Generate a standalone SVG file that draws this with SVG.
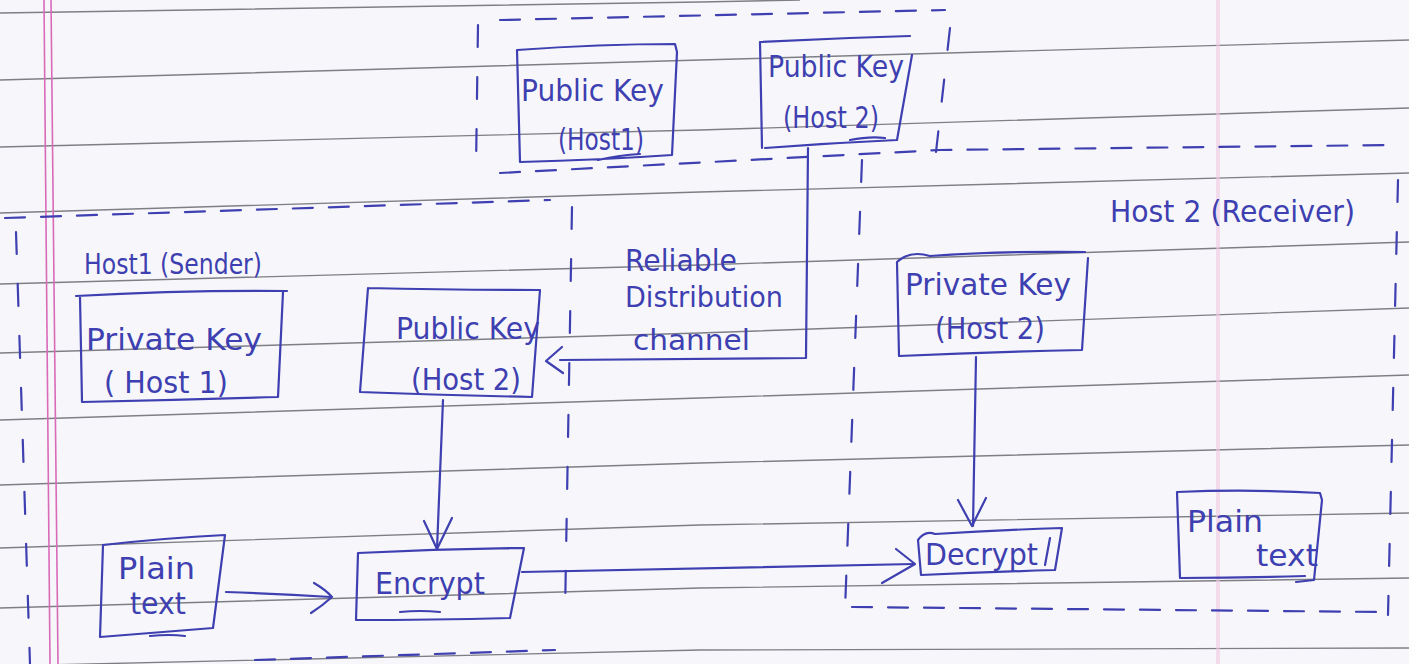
<svg xmlns="http://www.w3.org/2000/svg" width="1409" height="664" viewBox="0 0 1409 664">
  <style>
    .paper { fill: #f7f7fb; }
    .rule { fill: none; stroke: #55555f; stroke-width: 1.4; opacity: 0.75; }
    .margin { fill: none; stroke: #d96ab8; stroke-width: 1.6; }
    .margin-faint { fill: none; stroke: #efc9e2; stroke-width: 4; opacity: 0.6; }
    .ink { fill: none; stroke: #3e3fb0; stroke-width: 2.2; stroke-linecap: round; stroke-linejoin: round; }
    .dash-h { fill: none; stroke: #3e3fb0; stroke-width: 2.2; stroke-linecap: round; stroke-dasharray: 20 16; }
    .dash-v { fill: none; stroke: #3e3fb0; stroke-width: 2.2; stroke-linecap: round; stroke-dasharray: 22 30; }
    .label { fill: #3e3fb0; font-family: "DejaVu Sans", "Liberation Sans", sans-serif; font-size: 30px; }
    .small { font-size: 28px; }
  </style>

  <!-- ruled notebook paper -->
  <rect class="paper" x="0" y="0" width="1409" height="664"/>
  <g id="paper-rules">
    <polyline class="rule" points="0,13 700,2 800,0"/>
    <polyline class="rule" points="0,80 700,60 1409,40"/>
    <polyline class="rule" points="0,147 700,130 1409,108"/>
    <polyline class="rule" points="0,213 700,192 1409,173"/>
    <polyline class="rule" points="0,284 700,265 1409,242"/>
    <polyline class="rule" points="0,353 700,333 1409,308"/>
    <polyline class="rule" points="0,420 700,398 1409,375"/>
    <polyline class="rule" points="0,485 700,463 1409,445"/>
    <polyline class="rule" points="0,548 700,525 1409,513"/>
    <polyline class="rule" points="0,608 700,588 1409,578"/>
    <polyline class="rule" points="0,666 700,650 1409,648"/>
    <line class="margin-faint" x1="1218" y1="0" x2="1218" y2="664"/>
    <line class="margin" x1="44" y1="0" x2="50" y2="664"/>
    <line class="margin" x1="51" y1="0" x2="58" y2="664"/>
  </g>

  <!-- dashed region boundaries -->
  <g id="regions">
    <!-- public key directory -->
    <path class="dash-h" d="M500,20 L945,10"/>
    <path class="dash-v" d="M478,25 L476,168"/>
    <path class="dash-v" d="M950,28 L936,152"/>
    <path class="dash-h" d="M500,173 L940,150 L1395,145"/>
    <!-- host 1 (sender) -->
    <path class="dash-h" d="M5,218 L550,200"/>
    <path class="dash-v" d="M16,232 L30,664"/>
    <path class="dash-v" d="M572,207 L565,615"/>
    <path class="dash-h" d="M255,660 L555,650"/>
    <!-- host 2 (receiver) -->
    <path class="dash-v" d="M862,160 L845,610"/>
    <path class="dash-v" d="M1398,180 L1388,615"/>
    <path class="dash-h" d="M852,607 L1385,612"/>
  </g>

  <!-- connectors -->
  <g id="connectors">
    <!-- reliable distribution channel -->
    <path class="ink" d="M808,148 L806,358 L560,360"/>
    <path class="ink" d="M562,347 L546,361 L563,373"/>
    <!-- public key into encrypt -->
    <path class="ink" d="M443,400 L437,549"/>
    <path class="ink" d="M424,521 L437,549 L452,518"/>
    <!-- plain text into encrypt -->
    <path class="ink" d="M226,592 Q280,594 331,597"/>
    <path class="ink" d="M314,583 Q326,590 332,597 Q322,606 311,613"/>
    <!-- ciphertext into decrypt -->
    <path class="ink" d="M522,572 Q720,568 914,564"/>
    <path class="ink" d="M896,549 L915,564 L882,583"/>
    <!-- private key into decrypt -->
    <path class="ink" d="M976,357 L973,526"/>
    <path class="ink" d="M958,500 L972,526 L986,498"/>
  </g>

  <g id="pubkey-host1-dir">
    <path class="ink" d="M520,162 L517,50 Q600,44 675,44 L677,52 L672,155 Q600,160 520,162 M598,160 Q620,155 640,154"/>
    <text class="label" x="521" y="101" textLength="143" lengthAdjust="spacingAndGlyphs">Public Key</text>
    <text class="label" x="558" y="150" textLength="86" lengthAdjust="spacingAndGlyphs">(Host1)</text>
  </g>

  <g id="pubkey-host2-dir">
    <path class="ink" d="M762,148 L760,42 Q835,38 910,36 M912,55 L897,140 Q830,143 765,148 M850,140 Q870,136 885,138"/>
    <text class="label" x="768" y="77" textLength="136" lengthAdjust="spacingAndGlyphs">Public Key</text>
    <text class="label" x="783" y="128" textLength="96" lengthAdjust="spacingAndGlyphs">(Host 2)</text>
  </g>

  <g id="host1-label">
    <text class="label small" x="84" y="274" textLength="178" lengthAdjust="spacingAndGlyphs">Host1 (Sender)</text>
  </g>

  <g id="privkey-host1">
    <path class="ink" d="M80,297 L82,402 Q180,400 278,397 L283,292 M76,296 Q180,290 287,291"/>
    <text class="label" x="86" y="350" textLength="176" lengthAdjust="spacingAndGlyphs">Private Key</text>
    <text class="label" x="104" y="393" textLength="124" lengthAdjust="spacingAndGlyphs">( Host 1)</text>
  </g>

  <g id="pubkey-host2">
    <path class="ink" d="M368,288 Q450,290 540,290 L532,397 Q440,395 360,392 L368,288"/>
    <text class="label" x="396" y="339" textLength="144" lengthAdjust="spacingAndGlyphs">Public Key</text>
    <text class="label" x="411" y="390" textLength="110" lengthAdjust="spacingAndGlyphs">(Host 2)</text>
  </g>

  <g id="channel-label">
    <text class="label" x="625" y="271" textLength="112" lengthAdjust="spacingAndGlyphs">Reliable</text>
    <text class="label small" x="625" y="307" textLength="158" lengthAdjust="spacingAndGlyphs">Distribution</text>
    <text class="label small" x="633" y="350" textLength="117" lengthAdjust="spacingAndGlyphs">channel</text>
  </g>

  <g id="host2-label">
    <text class="label" x="1110" y="222" textLength="245" lengthAdjust="spacingAndGlyphs">Host 2 (Receiver)</text>
  </g>

  <g id="privkey-host2">
    <path class="ink" d="M897,262 Q910,250 930,256 Q1000,251 1085,252 M1088,258 L1082,350 Q990,352 899,356 L897,262"/>
    <text class="label" x="905" y="295" textLength="166" lengthAdjust="spacingAndGlyphs">Private Key</text>
    <text class="label" x="935" y="339" textLength="110" lengthAdjust="spacingAndGlyphs">(Host 2)</text>
  </g>

  <g id="plaintext-in">
    <path class="ink" d="M103,545 Q165,538 225,535 L213,628 Q160,632 100,637 L103,545 M150,636 Q170,634 185,636"/>
    <text class="label" x="118" y="579" textLength="77" lengthAdjust="spacingAndGlyphs">Plain</text>
    <text class="label" x="130" y="614" textLength="56" lengthAdjust="spacingAndGlyphs">text</text>
  </g>

  <g id="encrypt">
    <path class="ink" d="M358,553 Q440,549 524,548 L510,618 Q430,620 356,620 L358,553 M400,612 Q420,610 440,612"/>
    <text class="label" x="375" y="594" textLength="110" lengthAdjust="spacingAndGlyphs">Encrypt</text>
  </g>

  <g id="decrypt">
    <path class="ink" d="M918,540 Q925,530 935,534 Q1000,530 1062,528 L1055,570 Q990,572 921,575 L918,540 M1050,538 L1045,565"/>
    <text class="label" x="925" y="565" textLength="113" lengthAdjust="spacingAndGlyphs">Decrypt</text>
  </g>

  <g id="plaintext-out">
    <path class="ink" d="M1177,492 Q1250,489 1320,493 L1322,500 L1314,580 L1296,582 M1305,576 Q1240,578 1180,578 L1177,492"/>
    <text class="label" x="1187" y="532" textLength="76" lengthAdjust="spacingAndGlyphs">Plain</text>
    <text class="label" x="1256" y="566" textLength="62" lengthAdjust="spacingAndGlyphs">text</text>
  </g>
</svg>
